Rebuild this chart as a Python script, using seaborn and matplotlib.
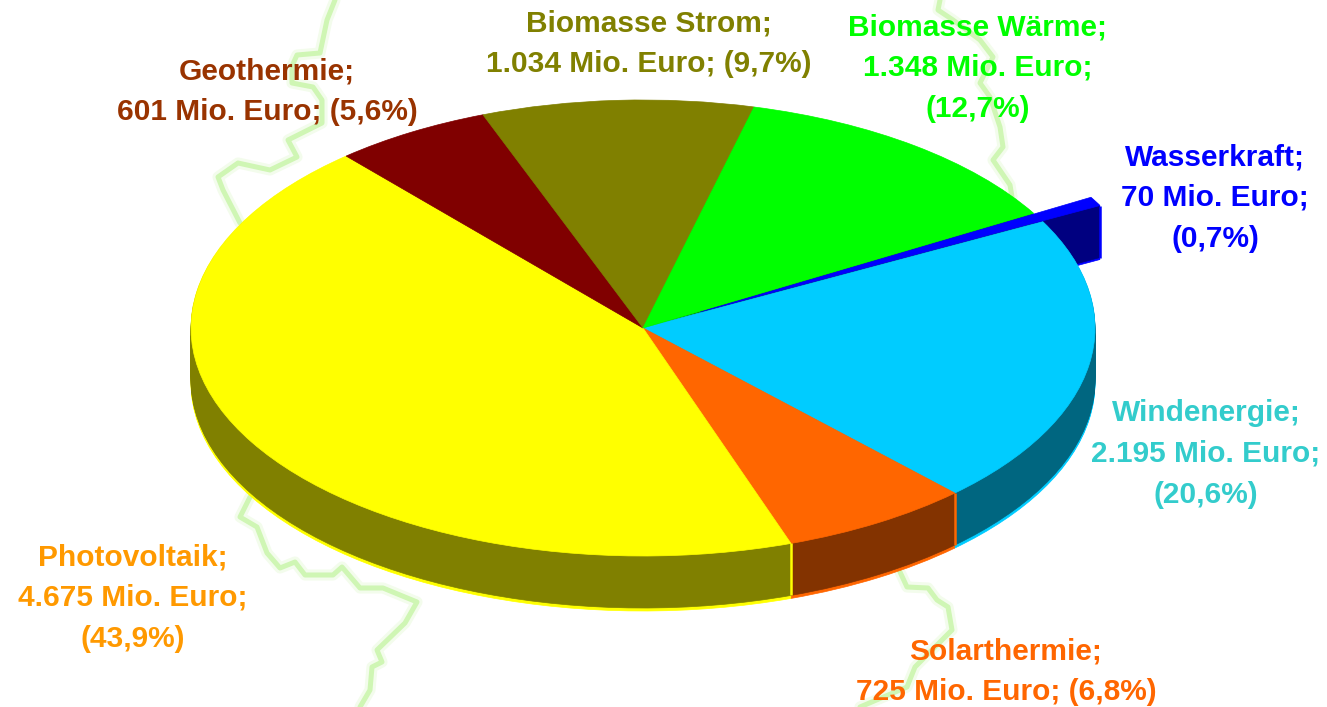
import math
import matplotlib
matplotlib.use("Agg")
import matplotlib.pyplot as plt
import seaborn as sns

# ---- data ----
categories = ["Wasserkraft", "Windenergie", "Solarthermie", "Photovoltaik",
              "Geothermie", "Biomasse Strom", "Biomasse Wärme"]
values = [70, 2195, 725, 4675, 601, 1034, 1348]
value_labels = ["70", "2.195", "725", "4.675", "601", "1.034", "1.348"]
percent_labels = ["0,7", "20,6", "6,8", "43,9", "5,6", "9,7", "12,7"]
line_breaks = [(True, True), (True, True), (True, False), (True, True),
               (True, False), (True, False), (True, True)]
explode = [0.145, 0, 0, 0, 0, 0, 0]
top_colors = ["#0000FF", "#00CCFF", "#FF6600", "#FFFF00", "#800000", "#808000", "#00FF00"]
side_colors = ["#000080", "#006680", "#833300", "#808000", "#400000", "#404000", "#008000"]
label_colors = ["#0000FF", "#33CCCC", "#FF6600", "#FF9900", "#993300", "#808000", "#00FF00"]
label_x = [1215, 1206, 1006, 133, 267, 649, 978]
label_y = [198, 454, 672, 598, 92, 44, 68]

# faint background map outline (image pixels)
border_a_x = [335, 327, 320, 297, 292, 292, 313, 322, 322, 288, 297, 270, 238, 218, 223, 240]
border_a_y = [0, 20, 53, 55, 66, 83, 87, 100, 123, 140, 157, 170, 163, 177, 190, 223]
border_b_x = [250, 240, 257, 267, 280, 295, 305, 333, 342, 360, 383, 417, 405, 377, 382, 372, 370, 360]
border_b_y = [497, 517, 527, 553, 568, 562, 575, 575, 567, 588, 588, 602, 623, 650, 662, 667, 690, 707]
border_c_x = [900, 907, 928, 937, 948, 952, 915, 907, 860]
border_c_y = [572, 587, 588, 600, 607, 630, 667, 687, 707]
border_d_x = [940, 938, 953, 980, 993, 980, 990, 1000, 1003, 993, 1010, 1012]
border_d_y = [0, 10, 20, 40, 57, 83, 97, 127, 147, 160, 185, 197]

# ---- layout ----
W, H = 1327, 707
CX, CY, RX, RY = 643, 328, 452, 228
DEPTH = 52

sns.set_theme(style="white")
plt.rcParams["font.family"] = ["Liberation Sans", "DejaVu Sans"]

fig = plt.figure(figsize=(W / 100, H / 100), dpi=100, facecolor="white")

bg = fig.add_axes([0, 0, 1, 1], zorder=0)
for bx, by in [(border_a_x, border_a_y), (border_b_x, border_b_y),
               (border_c_x, border_c_y), (border_d_x, border_d_y)]:
    sns.lineplot(x=bx, y=by, ax=bg, sort=False, estimator=None, color="#F3FCEC",
                 linewidth=8, legend=False)
    sns.lineplot(x=bx, y=by, ax=bg, sort=False, estimator=None, color="#CFF6B4",
                 linewidth=3.6, legend=False)
bg.set_xlim(0, W)
bg.set_ylim(H, 0)
bg.axis("off")

ax = fig.add_axes([0, 0, 1, 1], zorder=1)
ax.patch.set_alpha(0)


def layer(colors, depth_px):
    wedges, _ = ax.pie(values, explode=explode, colors=colors, startangle=30.2,
                       counterclock=False, center=(0, -depth_px / RY), normalize=True,
                       wedgeprops={"linewidth": 0.5})
    for w, c in zip(wedges, colors):
        w.set_edgecolor(c)
    return wedges


only_water = lambda cols: [cols[0]] + ["none"] * (len(cols) - 1)
no_water = lambda cols: ["none"] + list(cols[1:])

# exploded slice first so that the main body hides it
for d in range(DEPTH + 2, DEPTH, -1):
    layer(only_water(top_colors), d)
for d in range(DEPTH, 0, -1):
    layer(only_water(side_colors), d)
# main body
for d in range(DEPTH + 3, DEPTH, -1):
    layer(no_water(top_colors), d)
for d in range(DEPTH, 0, -1):
    layer(no_water(side_colors), d)
top = layer(no_water(top_colors), 0)
top_water = layer(only_water(top_colors), 0)


def wall_edge(wedge, angle, color):
    x = wedge.center[0] + wedge.r * math.cos(math.radians(angle))
    y = wedge.center[1] + wedge.r * math.sin(math.radians(angle))
    ax.plot([x, x], [y, y - DEPTH / RY], color=color, lw=1.8, solid_capstyle="butt")


# visible vertical seams of the side wall
wall_edge(top[2], top[2].theta2, top_colors[2])
wall_edge(top[3], top[3].theta2, top_colors[3])
wall_edge(top_water[0], top_water[0].theta1, top_colors[0])

ax.set_aspect("auto")
ax.set_xlim(-CX / RX, (W - CX) / RX)
ax.set_ylim(-(H - CY) / RY, CY / RY)
ax.axis("off")

for name, val, pct, (b1, b2), col, lx, ly in zip(categories, value_labels, percent_labels,
                                                 line_breaks, label_colors, label_x, label_y):
    txt = f"{name};" + ("\n" if b1 else " ") + f"{val} Mio. Euro;" + ("\n" if b2 else " ") + f"({pct}%)"
    fig.text(lx / W, 1 - ly / H, txt, color=col, fontsize=21.5, fontweight="bold",
             ha="center", va="center", linespacing=1.57, zorder=5)

fig.savefig("out.png", dpi=100, facecolor="white")
